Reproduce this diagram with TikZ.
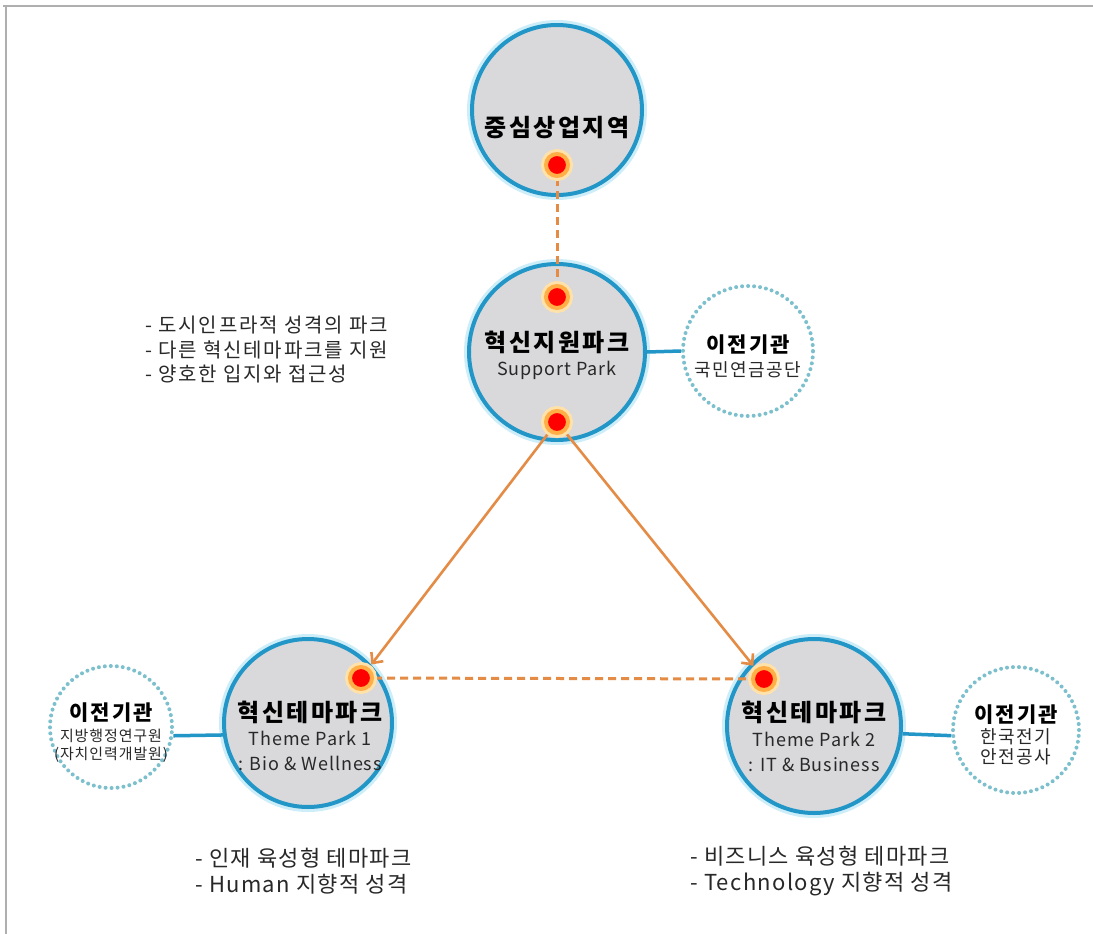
\documentclass[tikz,border=0pt]{standalone}
\usepackage{fontspec}
\setmainfont{Noto Sans CJK KR}
\usetikzlibrary{arrows.meta}
\definecolor{cblue}{RGB}{35,150,200}
\definecolor{cfill}{RGB}{217,217,220}
\definecolor{cglow}{RGB}{205,238,248}
\definecolor{cdot}{RGB}{125,192,205}
\definecolor{corange}{RGB}{228,140,70}
\definecolor{chalo}{RGB}{255,175,70}
\definecolor{chalo2}{RGB}{255,225,170}
\definecolor{cframe}{RGB}{175,175,175}
\definecolor{ctext}{RGB}{40,40,40}
\pgfdeclarelayer{bg}
\pgfdeclarelayer{circles}
\pgfdeclarelayer{lines}
\pgfsetlayers{bg,circles,lines,main}
\newcommand{\ls}[1]{\addfontfeature{LetterSpace=#1}}
\begin{document}
\begin{tikzpicture}[x=1pt,y=-1pt,
  park/.style={circle, draw=cblue, line width=4pt, fill=cfill, inner sep=0pt,
    preaction={draw=cglow, line width=10pt}},
  org/.style={circle, draw=cdot, line width=4pt, dash pattern=on 0pt off 6pt,
    line cap=round, inner sep=0pt},
  hot/.style={circle, fill=red, draw=chalo, line width=4pt, minimum size=22pt,
    inner sep=0pt, preaction={draw=chalo2, line width=10pt}},
  link/.style={draw=cblue, line width=3.5pt},
  dline/.style={draw=corange, line width=3pt, dash pattern=on 8pt off 5pt},
  arr/.style={draw=corange, line width=2.6pt, shorten >=4pt,
    -{Straight Barb[length=8pt,width=15pt,line width=2.6pt]}},
  title/.style={font=\fontsize{24}{28}\selectfont\bfseries\ls{10}, text=black, inner sep=0pt},
  sub/.style={font=\fontsize{18}{25}\selectfont\ls{5}, text=ctext, align=center, inner sep=0pt},
  otitle/.style={font=\fontsize{21}{24}\selectfont\bfseries\ls{10}, text=black, inner sep=0pt},
  osub/.style={font=\fontsize{18}{20}\selectfont\ls{8}, text=ctext, align=center, inner sep=0pt},
  osmall/.style={font=\fontsize{15}{18}\selectfont\ls{6}, text=ctext, align=center, inner sep=0pt},
  bullet/.style={font=\fontsize{20}{24.5}\selectfont\ls{9}, text=ctext, align=left, inner sep=0pt, anchor=west},
  bulletb/.style={font=\fontsize{22}{26}\selectfont\ls{6}, text=ctext, align=left, inner sep=0pt, anchor=west}
]
\useasboundingbox (0,0) rectangle (1093,934);
\begin{pgfonlayer}{bg}
\fill[white] (0,0) rectangle (1093,934);
\draw[cframe, line width=1.5pt] (3,6) -- (1093,6);
\draw[cframe, line width=1.5pt] (6,6) -- (6,934);
\end{pgfonlayer}

\begin{pgfonlayer}{circles}
\node[park, minimum size=170pt] (cbd) at (557,110) {};
\node[park, minimum size=176pt] (sp) at (557,352) {};
\node[park, minimum size=168pt] (tp1) at (308,723) {};
\node[park, minimum size=174pt] (tp2) at (814,726) {};
\node[org, minimum size=130pt] (o0) at (748,351) {};
\node[org, minimum size=122pt] (o1) at (111,727) {};
\node[org, minimum size=126pt] (o2) at (1016,730) {};
\end{pgfonlayer}

\node[hot] (d0) at (557,165) {};
\node[hot] (d1) at (557,297) {};
\node[hot] (d2) at (557,422) {};
\node[hot] (d3) at (361,678) {};
\node[hot] (d4) at (764,679) {};

\begin{pgfonlayer}{lines}
\draw[link] (sp.east) -- (o0.west);
\draw[link] (o1.-8) -- (tp1.188);
\draw[link] (tp2.-5) -- (o2.185);
\draw[dline] (d0) -- (d1);
\draw[dline] (d3) -- (d4);
\draw[arr] (d2) -- (d3);
\draw[arr] (d2) -- (d4);
\end{pgfonlayer}

\node[title] (t0) at (557,128) {중심상업지역};
\node[title] (t1) at (557,342) {혁신지원파크};
\node[sub] (s1) at (557,370) {Support Park};
\node[title] (t2) at (310,712) {혁신테마파크};
\node[sub] (s2) at (310,751) {Theme Park 1\\: Bio \& Wellness};
\node[title] (t3) at (814,712) {혁신테마파크};
\node[sub] (s3) at (814,752) {Theme Park 2\\: IT \& Business};

\node[otitle] (ot0) at (748,345) {이전기관};
\node[osub] (os0) at (748,370) {국민연금공단};
\node[otitle] (ot1) at (111,713) {이전기관};
\node[osmall] (os1) at (111,746) {지방행정연구원\\(자치인력개발원)};
\node[otitle] (ot2) at (1016,715) {이전기관};
\node[osub] (os2) at (1016,747) {한국전기\\안전공사};

\node[bullet] (b0) at (145,350) {- 도시인프라적 성격의 파크\\- 다른 혁신테마파크를 지원\\- 양호한 입지와 접근성};
\node[bulletb] (b1) at (195,871) {- 인재 육성형 테마파크\\- Human 지향적 성격};
\node[bulletb] (b2) at (690,871) {- 비즈니스 육성형 테마파크\\- Technology 지향적 성격};
\end{tikzpicture}
\end{document}
